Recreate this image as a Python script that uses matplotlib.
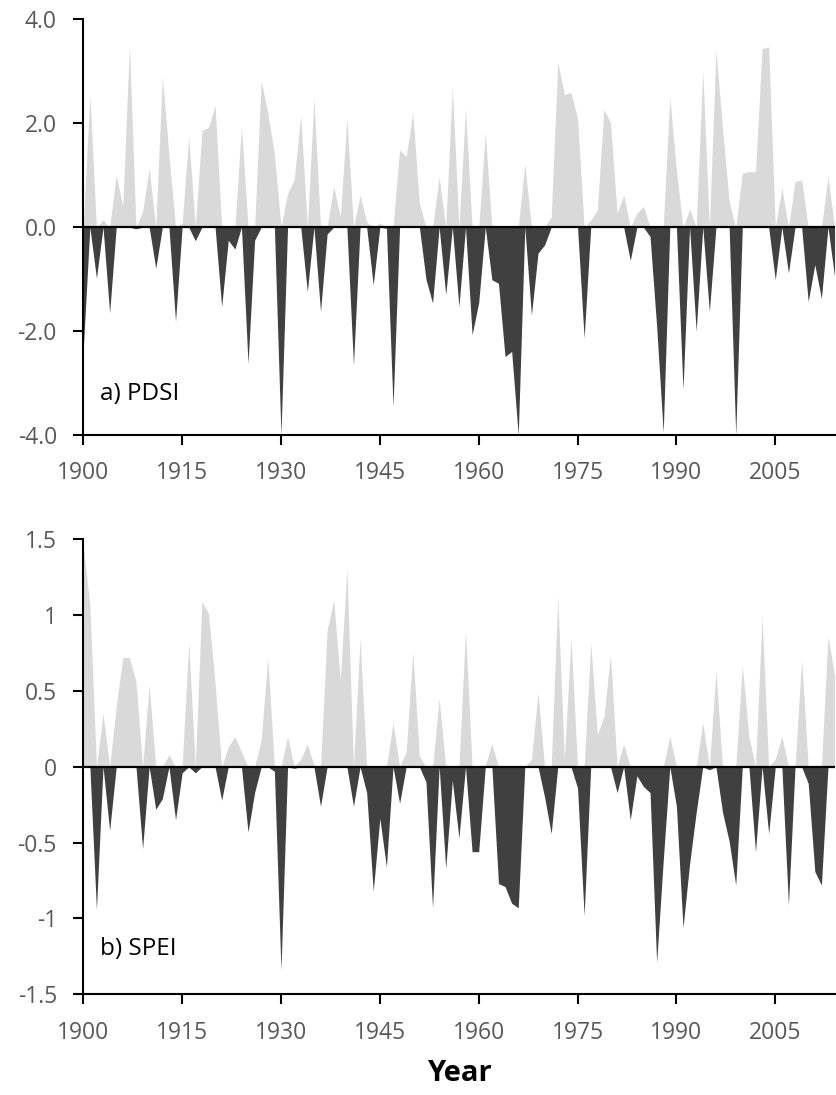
import numpy as np
import matplotlib.pyplot as plt

plt.rcParams['font.family'] = ['Open Sans', 'DejaVu Sans']
plt.rcParams['axes.unicode_minus'] = False

years = list(range(1900, 2015))

pdsi = [-2.35, 2.55, -0.98, 0.14, -1.65, 1.0, 0.4, 3.5, -0.03, 0.3,
        1.13, -0.79, 2.9, 1.4, -1.81, 0.08, 1.74, -0.26, 1.86, 1.92,
        2.35, -1.53, -0.25, -0.42, 1.94, -2.62, -0.25, 2.82, 2.2, 1.4,
        -4.0, 0.65, 0.91, 2.16, -1.24, 2.48, -1.62, -0.13, 0.78, 0.2,
        2.1, -2.65, 0.62, 0.1, -1.11, 0.08, -0.02, -3.45, 1.49, 1.36,
        2.19, 0.46, -1.0, -1.46, 0.97, -1.30, 2.69, -1.53, 2.27, -2.07,
        -1.45, 1.82, -1.01, -1.08, -2.49, -2.39, -4.0, 1.22, -1.69, -0.5,
        -0.34, 0.2, 3.17, 2.56, 2.59, 2.1, -2.13, 0.14, 0.33, 2.27,
        2.01, 0.26, 0.62, -0.64, 0.27, 0.4, -0.18, -1.9, -3.95, 2.5,
        1.1, -3.13, 0.35, -2.0, 3.03, -1.62, 3.41, 1.9, 0.5, -4.0,
        1.04, 1.07, 1.07, 3.44, 3.47, -1.01, 0.75, -0.88, 0.88, 0.91,
        -1.43, -0.72, -1.37, 0.97, -0.95]

spei = [1.45, 1.07, -0.94, 0.35, -0.42, 0.4, 0.72, 0.72, 0.56, -0.54,
        0.54, -0.28, -0.21, 0.08, -0.35, -0.04, 0.82, -0.04, 1.09, 1.01,
        0.55, -0.22, 0.13, 0.2, 0.1, -0.43, -0.17, 0.18, 0.72, -0.03,
        -1.34, 0.2, -0.01, 0.05, 0.15, 0.01, -0.26, 0.9, 1.1, 0.57,
        1.3, -0.26, 0.85, -0.17, -0.82, -0.34, -0.66, 0.29, -0.24, 0.1,
        0.76, 0.07, -0.1, -0.93, 0.45, -0.67, -0.09, -0.47, 0.9, -0.56,
        -0.56, 0.01, 0.15, -0.77, -0.79, -0.9, -0.93, 0.0, 0.05, 0.49,
        -0.2, -0.44, 1.12, 0.05, 0.85, -0.14, -0.98, 0.82, 0.21, 0.33,
        0.74, -0.17, 0.15, -0.35, -0.06, -0.13, -0.17, -1.29, -0.62, 0.2,
        -0.26, -1.06, -0.64, -0.3, 0.29, -0.02, 0.63, -0.3, -0.49, -0.78,
        0.67, 0.2, -0.56, 0.99, -0.44, 0.05, 0.2, -0.91, 0.0, 0.71,
        -0.11, -0.69, -0.78, 0.86, 0.6]

xticks = [1900, 1915, 1930, 1945, 1960, 1975, 1990, 2005]

light = '#d9d9d9'
dark = '#404040'
grey_text = '#595959'

fig = plt.figure(figsize=(8.36, 10.95), dpi=100)
ax1 = fig.add_axes([0.0996, 0.6027, 0.8987, 0.3796])
ax2 = fig.add_axes([0.0996, 0.0920, 0.8987, 0.4155])


def draw_panel(ax, values, ylim, yticks, ylabels, label):
    v = np.array(values)
    pos = np.where(v > 0, v, 0)
    neg = np.where(v < 0, v, 0)
    ax.fill_between(years, 0, pos, color=light, lw=0)
    ax.fill_between(years, 0, neg, color=dark, lw=0)
    ax.axhline(0, color='black', lw=1.6)
    ax.set_xlim(1900, 2014)
    ax.set_ylim(*ylim)
    ax.set_xticks(xticks)
    ax.set_yticks(yticks)
    ax.set_yticklabels(ylabels)
    for s in ['top', 'right']:
        ax.spines[s].set_visible(False)
    for s in ['left', 'bottom']:
        ax.spines[s].set_linewidth(1.5)
    ax.tick_params(direction='out', length=7, width=1.5, labelsize=16.5,
                   labelcolor=grey_text)
    ax.tick_params(axis='x', pad=12)
    ax.tick_params(axis='y', pad=12)
    ax.text(0.022, 0.099, label, transform=ax.transAxes, fontsize=17.5,
            va='center', ha='left', color='black')


draw_panel(ax1, pdsi, (-4, 4), [-4, -2, 0, 2, 4],
           ['-4.0', '-2.0', '0.0', '2.0', '4.0'], 'a) PDSI')
draw_panel(ax2, spei, (-1.5, 1.5), [-1.5, -1, -0.5, 0, 0.5, 1, 1.5],
           ['-1.5', '-1', '-0.5', '0', '0.5', '1', '1.5'], 'b) SPEI')

ax2.set_xlabel('Year', fontsize=21, fontweight='bold', labelpad=10)

fig.savefig('out.png', dpi=100)
